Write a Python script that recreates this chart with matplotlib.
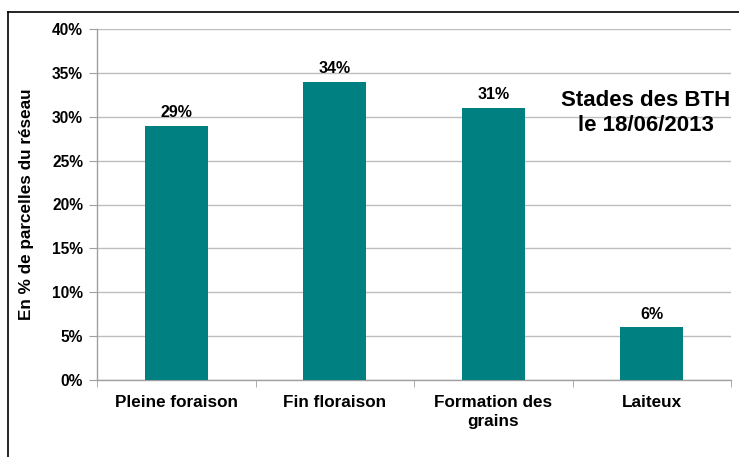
import matplotlib.pyplot as plt
from matplotlib.lines import Line2D

categories = ['Pleine foraison', 'Fin floraison', 'Formation des\ngrains', 'Laiteux']
values = [29, 34, 31, 6]
yticks = [0, 5, 10, 15, 20, 25, 30, 35, 40]

plt.rcParams['font.family'] = ['Liberation Sans', 'DejaVu Sans']

fig = plt.figure(figsize=(7.39, 4.57), dpi=100)
W, H = 739, 457
ax = fig.add_axes([97 / W, 1 - 380 / H, (731 - 97) / W, (380 - 29) / H])

x = range(len(categories))
ax.bar(x, values, width=0.40, color='#008080', zorder=3)
for i, v in enumerate(values):
    ax.annotate(f'{v}%', (i, v), xytext=(0, 4), textcoords='offset points',
                ha='center', va='bottom', fontsize=11.5, fontweight='bold')

ax.set_xlim(-0.5, len(categories) - 0.5)
ax.set_ylim(0, 40)
ax.set_yticks(yticks)
ax.set_yticklabels([f'{t}%' for t in yticks], fontsize=11.2, fontweight='bold')
ax.yaxis.grid(True, color='#BEBEBE', linewidth=1, zorder=0)
ax.set_axisbelow(True)

ax.set_xticks(list(x))
ax.set_xticklabels(categories, fontsize=12.3, fontweight='bold', linespacing=1.3)
ax.tick_params(axis='x', length=0, pad=11)
ax.set_xticks([i - 0.5 for i in range(len(categories) + 1)], minor=True)
ax.tick_params(axis='x', which='minor', length=5, color='#A0A0A0', direction='out')
ax.tick_params(axis='y', length=6, color='#A0A0A0', pad=4)

for s in ['top', 'right']:
    ax.spines[s].set_visible(False)
for s in ['left', 'bottom']:
    ax.spines[s].set_color('#A0A0A0')
    ax.spines[s].set_linewidth(1)

ax.set_ylabel('En % de parcelles du réseau', fontsize=12.3, fontweight='bold', labelpad=13)

fig.text(646 / W, 1 - 113 / H, 'Stades des BTH\nle 18/06/2013', ha='center', va='center',
         fontsize=16, fontweight='bold', linespacing=1.3)

# cadre
fig.add_artist(Line2D([8 / W, 8 / W], [0, 1 - 12 / H], color='black', linewidth=1.2))
fig.add_artist(Line2D([8 / W, 1], [1 - 12 / H, 1 - 12 / H], color='black', linewidth=1.2))

fig.savefig('out.png', dpi=100)
